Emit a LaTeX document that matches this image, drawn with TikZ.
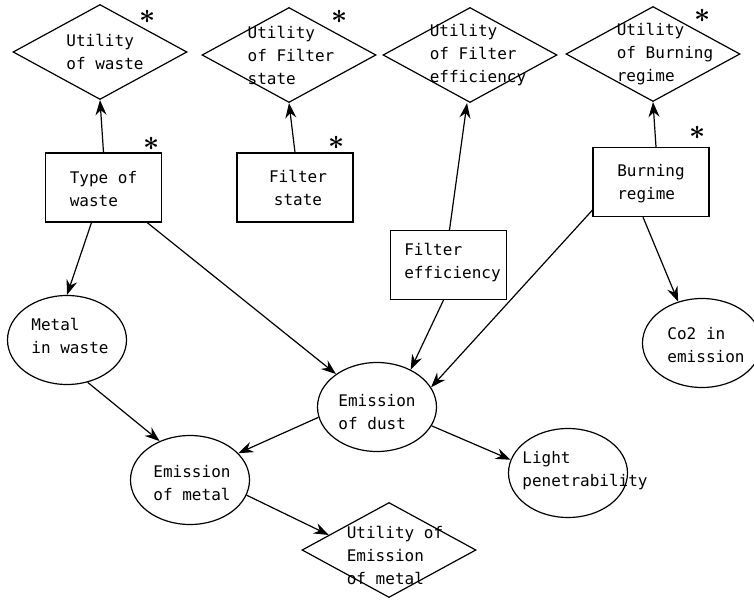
\documentclass[tikz,border=0pt]{standalone}
\usepackage{fontspec}
\newfontfamily\diagfont{DejaVu Sans Mono}
\usetikzlibrary{shapes.geometric,arrows.meta,positioning}

\begin{document}
\begin{tikzpicture}[
  x=1pt, y=-1pt,
  utility/.style={diamond, draw, line width=1.2pt, minimum width=174pt, minimum height=95pt, inner sep=0pt},
  decision/.style={rectangle, draw, line width=1.2pt, minimum width=116pt, minimum height=69pt, inner sep=0pt},
  chance/.style={ellipse, draw, line width=1.2pt, minimum width=119pt, minimum height=89pt, inner sep=0pt},
  txt/.style={font=\diagfont\fontsize{16}{23}\selectfont, align=left, inner sep=0pt},
  asterisk/.style={inner sep=0pt},
  link/.style={-{Stealth[length=15pt,width=11pt,inset=5pt]}, line width=1.2pt}
]
  \useasboundingbox (0,0) rectangle (754,599);
  % utility nodes
  \node[utility] (uwaste) at (100,52)  {};
  \node[utility] (ustate) at (289,55)  {};
  \node[utility] (ueff)   at (470,55)  {};
  \node[utility] (uburn)  at (653,54)  {};
  \node[utility] (umetal) at (389,550) {};
  % decision nodes
  \node[decision] (waste)  at (103.5,187.5) {};
  \node[decision] (fstate) at (295,187.5)   {};
  \node[decision] (feff)   at (448.5,265)   {};
  \node[decision] (burn)   at (651,182)     {};
  % chance nodes
  \node[chance] (metal) at (67,340)  {};
  \node[chance] (dust)  at (377,407) {};
  \node[chance] (emet)  at (190,480) {};
  \node[chance] (light) at (568,473) {};
  \node[chance] (co2)   at (702,343) {};
  % texts
  \node[txt] (uwaste-t) at ([xshift=5pt]uwaste)  {Utility\\of waste};
  \node[txt] (ustate-t) at ([xshift=2pt]ustate)  {Utility\\of Filter\\state};
  \node[txt] (ueff-t)   at ([xshift=8pt]ueff)    {Utility\\of Filter\\efficiency};
  \node[txt] (uburn-t)  at ([xshift=12pt]uburn)  {Utility\\of Burning\\regime};
  \node[txt] (umetal-t) at ([xshift=6pt,yshift=-5pt]umetal) {Utility of\\Emission\\of metal};
  \node[txt] (waste-t)  at ([yshift=-2pt]waste)  {Type of\\waste};
  \node[txt, align=center] (fstate-t) at ([xshift=3pt]fstate) {Filter\\state};
  \node[txt] (feff-t)   at ([xshift=4pt,yshift=2pt]feff) {Filter\\efficiency};
  \node[txt] (burn-t)   at ([yshift=-2pt]burn)   {Burning\\regime};
  \node[txt] (metal-t)  at ([xshift=3pt,yshift=4pt]metal) {Metal\\in waste};
  \node[txt] (dust-t)   at ([yshift=-5pt]dust)   {Emission\\of dust};
  \node[txt] (emet-t)   at ([xshift=2pt,yshift=-3pt]emet) {Emission\\of metal};
  \node[txt] (light-t)  at ([xshift=17pt,yshift=2pt]light) {Light\\penetrability};
  \node[txt] (co2-t)    at ([xshift=4pt,yshift=-2pt]co2) {Co2 in\\emission};
  % asterisks
  \node[asterisk] (s1) at (148,17)  {\scalebox{2.8}{\boldmath$\ast$}};
  \node[asterisk] (s2) at (340,17)  {\scalebox{2.8}{\boldmath$\ast$}};
  \node[asterisk] (s3) at (703,16)  {\scalebox{2.8}{\boldmath$\ast$}};
  \node[asterisk] (s4) at (152,144) {\scalebox{2.8}{\boldmath$\ast$}};
  \node[asterisk] (s5) at (337,143) {\scalebox{2.8}{\boldmath$\ast$}};
  \node[asterisk] (s6) at (698,133) {\scalebox{2.8}{\boldmath$\ast$}};
  % links
  \draw[link] (waste.north) -- (uwaste.south);
  \draw[link] (fstate.north) -- (ustate.south);
  \draw[link] ([xshift=1pt]feff.north) -- ([xshift=-3pt]ueff.south);
  \draw[link] ([xshift=5pt]burn.north) -- (uburn.south);
  \draw[link] ([xshift=-12pt]waste.south) -- (metal.north);
  \draw[link] (waste) -- (dust);
  \draw[link] ([xshift=-5pt]feff.south) -- (dust.48);
  \draw[link] ([yshift=7pt]burn.south west) -- (dust.20);
  \draw[link] ([xshift=-8pt]burn.south) -- (co2.120);
  \draw[link] (metal.-64) -- (emet.128);
  \draw[link] (dust.190) -- (emet.29);
  \draw[link] (dust.-19) -- (light.167);
  \draw[link] (emet.-15) -- (umetal.166);
\end{tikzpicture}
\end{document}
